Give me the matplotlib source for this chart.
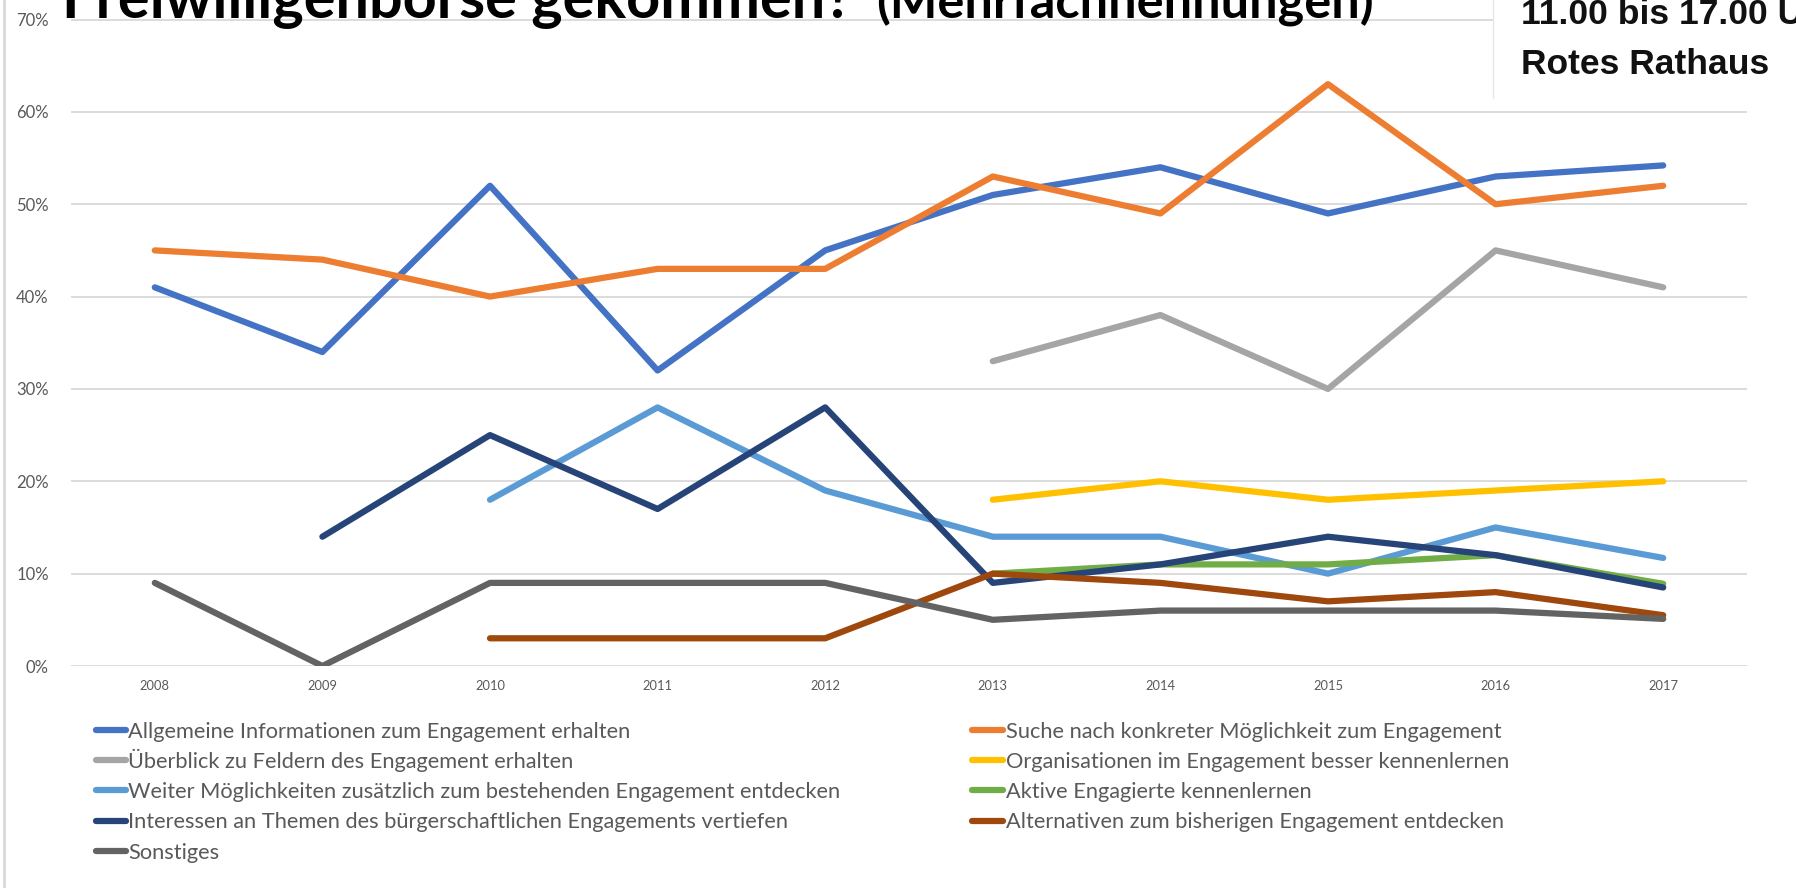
import numpy as np
import matplotlib
matplotlib.use("Agg")
import matplotlib.pyplot as plt
from matplotlib import font_manager
from matplotlib.patches import Rectangle
from matplotlib.lines import Line2D
from matplotlib.ticker import PercentFormatter

# ---------- Daten (Anteile in %) ----------
nan = np.nan
jahre = ["2008", "2009", "2010", "2011", "2012", "2013", "2014", "2015", "2016", "2017"]

allgemeine = [41, 34, 52, 32, 45, 51, 54, 49, 53, 54.2]
suche = [45, 44, 40, 43, 43, 53, 49, 63, 50, 52]
ueberblick = [nan, nan, nan, nan, nan, 33, 38, 30, 45, 41]
organisationen = [nan, nan, nan, nan, nan, 18, 20, 18, 19, 20]
weiter = [nan, nan, 18, 28, 19, 14, 14, 10, 15, 11.7]
aktive = [nan, nan, nan, nan, nan, 10, 11, 11, 12, 8.9]
interessen = [nan, 14, 25, 17, 28, 9, 11, 14, 12, 8.5]
alternativen = [nan, nan, 3, 3, 3, 10, 9, 7, 8, 5.5]
sonstiges = [9, 0, 9, 9, 9, 5, 6, 6, 6, 5.1]

serien = [allgemeine, suche, ueberblick, organisationen, weiter,
          aktive, interessen, alternativen, sonstiges]
labels = [
    "Allgemeine Informationen zum Engagement erhalten",
    "Suche nach konkreter Möglichkeit zum Engagement",
    "Überblick zu Feldern des Engagement erhalten",
    "Organisationen im Engagement besser kennenlernen",
    "Weiter Möglichkeiten zusätzlich zum bestehenden Engagement entdecken",
    "Aktive Engagierte kennenlernen",
    "Interessen an Themen des bürgerschaftlichen Engagements vertiefen",
    "Alternativen zum bisherigen Engagement entdecken",
    "Sonstiges",
]
farben = ["#4472C4", "#ED7D31", "#A5A5A5", "#FFC000", "#5B9BD5",
          "#70AD47", "#264478", "#9E480E", "#636363"]

W, H = 1796, 888
GRAU = "#595959"
plt.rcParams["font.family"] = ["Lato", "DejaVu Sans"]

installiert = {f.name for f in font_manager.fontManager.ttflist}
if "Liberation Sans Narrow" in installiert:
    schmal = ["Liberation Sans Narrow", "DejaVu Sans"]
else:
    schmal = ["Liberation Sans", "DejaVu Sans"]

fig = plt.figure(figsize=(W / 100, H / 100), dpi=100)
renderer = fig.canvas.get_renderer()


def fit(t, width_px):
    w = t.get_window_extent(renderer).width
    t.set_fontsize(t.get_fontsize() * width_px / w)


# ---------- Diagramm ----------
ax = fig.add_axes([71 / W, 1 - 666 / H, 1676 / W, (666 - 19.5) / H])
x = np.arange(len(jahre))
linien = []
for werte, lab, col in zip(serien, labels, farben):
    (l,) = ax.plot(x, np.array(werte, dtype=float) / 100, color=col, lw=4.5,
                   solid_capstyle="round", solid_joinstyle="round", label=lab)
    linien.append(l)

ax.set_xlim(-0.5, len(jahre) - 0.5)
ax.set_ylim(0, 0.70)
ax.set_yticks(np.arange(0, 0.71, 0.1))
ax.yaxis.set_major_formatter(PercentFormatter(1.0, decimals=0))
ax.set_xticks(x)
ax.set_xticklabels(jahre)
ax.grid(axis="y", color="#D9D9D9", lw=1.3)
ax.set_axisbelow(True)
for s in ax.spines.values():
    s.set_visible(False)
ax.tick_params(axis="y", length=0, pad=16, labelsize=12, labelcolor=GRAU)
ax.tick_params(axis="x", length=0, pad=10, labelsize=9.3, labelcolor=GRAU)

# ---------- Titel (oben abgeschnitten) ----------
t1 = fig.text(62 / W, 1 - 18 / H, "Freiwilligenbörse gekommen?", fontsize=40,
              fontweight="bold", color="black", va="baseline")
fit(t1, 790)
t2 = fig.text(876 / W, 1 - 18 / H, "(Mehrfachnennungen)", fontsize=40,
              fontweight="bold", color="black", va="baseline")
fit(t2, 497)

# ---------- Kasten oben rechts ----------
fig.add_artist(Rectangle((1493 / W, 1 - 98 / H), 1, 98 / H, transform=fig.transFigure,
                         facecolor="white", edgecolor="none", zorder=5))
fig.add_artist(Line2D([1493 / W, 1493 / W], [1 - 98 / H, 1], transform=fig.transFigure,
                      color="#E6E6E6", lw=1, zorder=6))
k2 = fig.text(1521 / W, 1 - 74 / H, "Rotes Rathaus", fontsize=20, family=schmal,
              fontweight="bold", color="#111111", va="baseline", zorder=7)
fit(k2, 248)
fig.text(1521 / W, 1 - 24 / H, "11.00 bis 17.00 Uhr", fontsize=k2.get_fontsize(),
         family=schmal, fontweight="bold", color="#111111", va="baseline", zorder=7)

# ---------- Rahmenlinie links ----------
fig.add_artist(Line2D([4 / W, 4 / W], [0, 1], transform=fig.transFigure,
                      color="#D9D9D9", lw=2))

# ---------- Legende (zwei Spalten, zeilenweise wie in Excel) ----------
probe = fig.text(0, 0, labels[4], fontsize=15)
fit(probe, 714)
fs = probe.get_fontsize()
probe.remove()
fs_px = fs * 100 / 72

spalten = [(96, 126, 128), (972, 1003, 1006)]   # Linie von/bis, Textanfang (px)
for i, (lab, col) in enumerate(zip(labels, farben)):
    x0, x1, xt = spalten[i % 2]
    yc = 730 + (i // 2) * 30.2
    fig.add_artist(Line2D([x0 / W, x1 / W], [1 - yc / H] * 2, transform=fig.transFigure,
                          color=col, lw=4.5, solid_capstyle="round"))
    fig.text(xt / W, 1 - (yc + 0.36 * fs_px) / H, lab, fontsize=fs, color=GRAU,
             va="baseline")

fig.savefig("out.png", dpi=100)
